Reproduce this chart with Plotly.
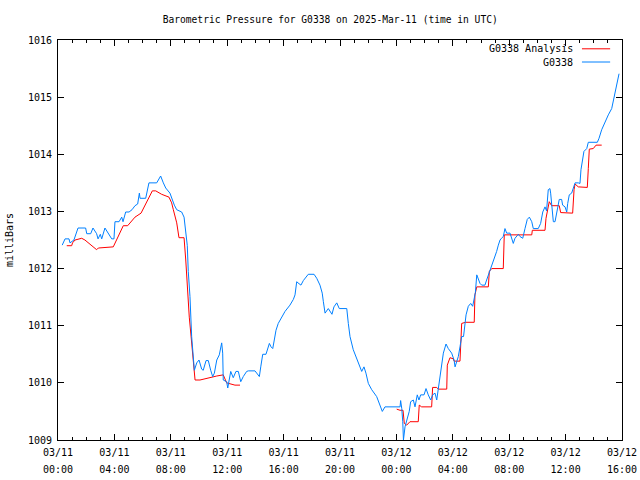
import datetime as dt
import plotly.graph_objects as go

# Hours after 2025-03-11 00:00 UTC and pressure (mb) for station G0338
obs_hours = [0.30, 0.50, 0.78, 0.85, 1.13, 1.42, 1.96, 2.04, 2.32, 2.48, 2.74, 2.84, 3.00, 3.10, 3.33, 3.55, 3.81, 3.97,
             4.04, 4.33, 4.52, 4.61, 4.80, 5.04, 5.25, 5.46, 5.65, 5.77, 5.82, 6.22, 6.45, 7.00, 7.28, 7.47, 7.64, 7.94,
             8.06, 8.25, 8.42, 8.77, 8.94, 9.08, 9.17, 9.24, 9.36, 9.48, 9.60, 9.67, 9.84, 10.00, 10.19, 10.30, 10.50,
             10.66, 10.83, 10.97, 11.09, 11.26, 11.44, 11.61, 11.68, 11.72, 11.96, 12.04, 12.25, 12.43, 12.62, 12.79,
             12.96, 13.14, 13.38, 13.50, 13.97, 14.13, 14.28, 14.38, 14.52, 14.75, 14.84, 14.99, 15.11, 15.23, 15.34,
             15.46, 15.62, 15.87, 16.10, 16.45, 16.69, 16.81, 16.93, 17.02, 17.23, 17.40, 17.64, 17.75, 18.16, 18.35,
             18.58, 18.74, 18.82, 18.94, 19.17, 19.29, 19.43, 19.57, 19.77, 19.95, 20.48, 20.59, 20.71, 20.94, 21.18,
             21.42, 21.54, 21.70, 21.84, 22.01, 22.25, 22.60, 22.84, 23.00, 23.19, 24.26, 24.30, 24.38, 24.45, 24.50,
             24.61, 24.84, 24.91, 25.01, 25.20, 25.32, 25.48, 25.60, 25.72, 25.96, 26.10, 26.26, 26.43, 26.57, 26.74,
             26.86, 26.97, 27.09, 27.21, 27.33, 27.52, 27.68, 27.92, 28.09, 28.16, 28.39, 28.51, 28.63, 28.76, 28.94,
             29.10, 29.27, 29.41, 29.52, 29.60, 29.70, 29.79, 29.93, 30.05, 30.28, 30.40, 30.64, 30.76, 30.87, 30.99,
             31.11, 31.23, 31.35, 31.45, 31.58, 31.70, 31.82, 32.06, 32.18, 32.29, 32.41, 32.65, 32.77, 32.96, 33.12,
             33.28, 33.43, 33.60, 33.71, 34.06, 34.23, 34.38, 34.54, 34.65, 34.77, 34.89, 34.94, 35.01, 35.13, 35.25,
             35.37, 35.48, 35.55, 35.72, 35.79, 35.96, 36.08, 36.15, 36.26, 36.43, 36.55, 36.67, 36.90, 37.02, 37.09,
             37.18, 37.30, 37.50, 37.61, 38.25, 38.37, 38.56, 38.79, 39.03, 39.27, 39.43, 39.57, 39.67, 39.79]
obs_mb = [1012.41, 1012.52, 1012.52, 1012.45, 1012.50, 1012.71, 1012.71, 1012.61, 1012.61, 1012.71, 1012.61, 1012.52,
          1012.60, 1012.52, 1012.71, 1012.62, 1012.52, 1012.52, 1012.82, 1012.82, 1012.90, 1012.82, 1012.99, 1012.99,
          1013.03, 1013.10, 1013.13, 1013.32, 1013.23, 1013.23, 1013.50, 1013.50, 1013.62, 1013.50, 1013.41, 1013.32,
          1013.23, 1013.11, 1013.03, 1012.99, 1012.90, 1012.59, 1012.40, 1011.95, 1011.51, 1010.81, 1010.35, 1010.22,
          1010.35, 1010.40, 1010.24, 1010.22, 1010.39, 1010.39, 1010.22, 1010.11, 1010.17, 1010.40, 1010.49, 1010.70,
          1010.52, 1010.05, 1010.02, 1009.91, 1010.20, 1010.09, 1010.20, 1010.20, 1010.02, 1010.11, 1010.20, 1010.21,
          1010.21, 1010.15, 1010.11, 1010.28, 1010.50, 1010.50, 1010.57, 1010.69, 1010.63, 1010.60, 1010.75, 1010.92,
          1011.04, 1011.16, 1011.25, 1011.36, 1011.46, 1011.54, 1011.77, 1011.75, 1011.71, 1011.79, 1011.87, 1011.90,
          1011.90, 1011.83, 1011.71, 1011.57, 1011.42, 1011.22, 1011.30, 1011.26, 1011.20, 1011.33, 1011.40, 1011.30,
          1011.30, 1011.04, 1010.81, 1010.58, 1010.43, 1010.28, 1010.20, 1010.28, 1010.17, 1009.99, 1009.88, 1009.76,
          1009.61, 1009.50, 1009.58, 1009.58, 1009.69, 1009.55, 1009.32, 1009.00, 1009.23, 1009.41, 1009.50, 1009.67,
          1009.70, 1009.58, 1009.79, 1009.70, 1009.79, 1009.79, 1009.90, 1009.79, 1009.70, 1009.79, 1009.82, 1009.70,
          1009.88, 1010.05, 1010.28, 1010.52, 1010.68, 1010.60, 1010.52, 1010.40, 1010.28, 1010.46, 1010.63, 1010.81,
          1010.81, 1011.19, 1011.34, 1011.39, 1011.34, 1011.45, 1011.58, 1011.89, 1011.82, 1011.74, 1011.71, 1011.71,
          1011.80, 1011.97, 1012.03, 1012.12, 1012.21, 1012.30, 1012.41, 1012.50, 1012.53, 1012.56, 1012.70, 1012.62,
          1012.62, 1012.50, 1012.44, 1012.53, 1012.60, 1012.56, 1012.53, 1012.70, 1012.86, 1012.90, 1012.82, 1012.70,
          1012.70, 1012.79, 1012.99, 1013.08, 1013.01, 1013.38, 1013.40, 1013.32, 1013.08, 1012.82, 1012.82, 1012.97,
          1013.14, 1013.21, 1013.21, 1013.11, 1013.08, 1012.99, 1013.14, 1013.29, 1013.32, 1013.43, 1013.50, 1013.50,
          1013.49, 1013.73, 1013.90, 1014.05, 1014.10, 1014.21, 1014.21, 1014.28, 1014.43, 1014.57, 1014.69, 1014.80,
          1014.98, 1015.15, 1015.27, 1015.41]

# Analysis series (None marks the gap in the analysis)
ana_hours = [0.62, 0.97, 1.03, 1.21, 1.68, 1.91, 2.74, 2.86, 3.92, 4.63, 4.94, 5.46, 5.89, 6.69, 6.93, 7.35, 7.87,
             8.06, 8.18, 8.23, 8.42, 8.58, 8.94, 9.06, 9.17, 9.31, 9.41, 9.55, 9.72, 10.07, 10.66, 11.26, 11.72, 11.96,
             12.55, 12.91, 18.0, 24.02, 24.26, 24.47, 24.56, 24.73, 24.96, 25.55, 25.62, 25.79, 26.50, 26.57, 26.86,
             26.97, 27.57, 27.61, 27.80, 28.04, 28.09, 28.51, 28.56, 28.63, 28.91, 29.52, 29.57, 29.65, 29.70, 30.52,
             30.59, 30.76, 31.58, 31.65, 33.60, 33.64, 34.54, 34.61, 34.84, 35.01, 35.55, 35.65, 36.50, 36.60, 36.67,
             36.90, 37.54, 37.61, 37.68, 37.96, 38.16, 38.56]
ana_mb = [1012.40, 1012.40, 1012.45, 1012.50, 1012.53, 1012.50, 1012.33, 1012.36, 1012.38, 1012.75, 1012.75, 1012.90,
          1012.97, 1013.36, 1013.36, 1013.30, 1013.25, 1013.15, 1013.03, 1012.97, 1012.80, 1012.54, 1012.54, 1012.15,
          1011.68, 1011.15, 1010.89, 1010.49, 1010.05, 1010.05, 1010.09, 1010.12, 1010.14, 1010.00, 1009.96, 1009.96,
          None, 1009.54, 1009.52, 1009.52, 1009.29, 1009.26, 1009.32, 1009.32, 1009.61, 1009.58, 1009.58, 1009.92,
          1009.92, 1009.89, 1009.89, 1010.31, 1010.44, 1010.42, 1010.38, 1010.38, 1010.75, 1011.04, 1011.06, 1011.06,
          1011.54, 1011.62, 1011.68, 1011.68, 1011.95, 1012.00, 1012.00, 1012.59, 1012.59, 1012.67, 1012.67, 1012.88,
          1013.17, 1013.10, 1013.10, 1012.98, 1012.97, 1013.38, 1013.48, 1013.43, 1013.42, 1013.75, 1014.09, 1014.10,
          1014.16, 1014.16]

start = dt.datetime(2025, 3, 11, 0, 0)
end = dt.datetime(2025, 3, 12, 16, 0)
obs_t = [start + dt.timedelta(hours=h) for h in obs_hours]
ana_t = [start + dt.timedelta(hours=h) for h in ana_hours]

RED = "#ff0000"
BLUE = "#0080ff"
FONT = "DejaVu Sans Mono"

fig = go.Figure()
fig.add_trace(go.Scatter(x=ana_t, y=ana_mb, mode="lines", name="G0338 Analysis",
                         line=dict(color=RED, width=1), connectgaps=False))
fig.add_trace(go.Scatter(x=obs_t, y=obs_mb, mode="lines", name="G0338",
                         line=dict(color=BLUE, width=1)))
# empty trace to carry the second (time-of-day) label row
fig.add_trace(go.Scatter(x=[], y=[], xaxis="x2", showlegend=False, hoverinfo="skip"))

axis_common = dict(showline=True, linecolor="black", linewidth=1, mirror="ticks",
                   ticks="inside", tickcolor="black", showgrid=False, zeroline=False,
                   tickfont=dict(family=FONT, size=10, color="black"))

fig.update_layout(
    width=640, height=480,
    margin=dict(l=58, r=18, t=40, b=40, autoexpand=False),
    paper_bgcolor="white", plot_bgcolor="white",
    showlegend=False,
    font=dict(family=FONT, size=10, color="black"),
    title=dict(text="Barometric Pressure for G0338 on 2025-Mar-11 (time in UTC)",
               x=0.516, xanchor="center", y=0.960, yanchor="middle",
               font=dict(family=FONT, size=9.6, color="black")),
    xaxis=dict(range=[start, end], type="date", tick0=start, dtick=4 * 3600000,
               tickformat="%m/%d", ticklen=6, ticklabelstandoff=3, automargin=False,
               ticklabeloverflow="allow",
               minor=dict(ticks="inside", dtick=3600000, ticklen=3, tickcolor="black"),
               **axis_common),
    xaxis2=dict(overlaying="x", matches="x", type="date", tick0=start, dtick=4 * 3600000,
                tickformat="%H:%M", side="bottom", showline=False, ticks="", showgrid=False,
                zeroline=False, ticklabelstandoff=22, automargin=False, ticklabeloverflow="allow",
                tickfont=dict(family=FONT, size=10, color="black")),
    yaxis=dict(range=[1009, 1016], dtick=1, ticklen=6, ticklabelstandoff=3, automargin=False,
               title=dict(text="milliBars", font=dict(family=FONT, size=10), standoff=12),
               **axis_common),
)

# gnuplot-style legend: text right-aligned, sample line to its right
legend_items = [("G0338 Analysis", RED, 0.978), ("G0338", BLUE, 0.945)]
for label, color, yy in legend_items:
    fig.add_annotation(x=0.917, y=yy, xref="paper", yref="paper", text=label, showarrow=False,
                       xanchor="right", yanchor="middle", font=dict(family=FONT, size=10, color="black"))
    fig.add_shape(type="line", xref="paper", yref="paper", x0=0.929, x1=0.979, y0=yy, y1=yy,
                  line=dict(color=color, width=1))

# remove the browser's default 8px page margin so the 640x480 figure fills the window
fig.write_html("out.html", config={"displayModeBar": False},
               post_script="document.body.style.margin='0';document.body.style.overflow='hidden';")
